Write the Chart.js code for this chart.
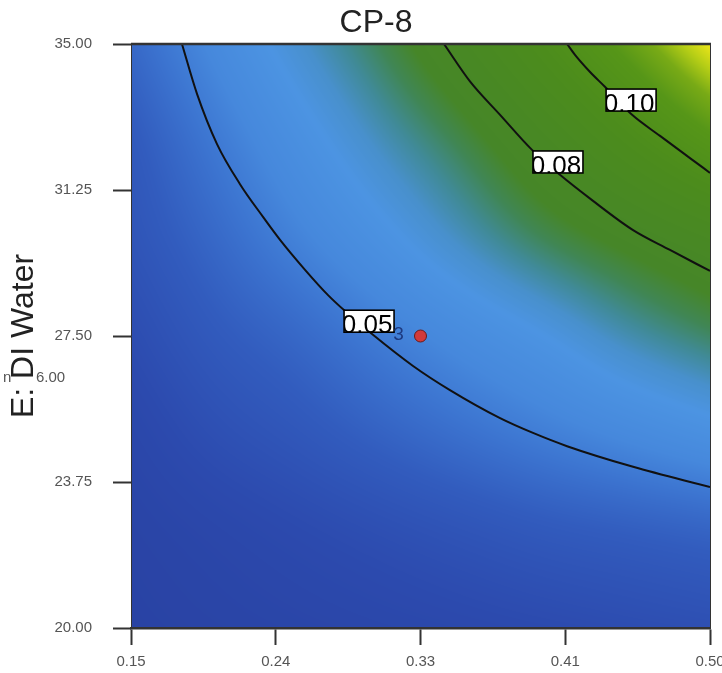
<!DOCTYPE html>
<html><head><meta charset="utf-8">
<script src="https://cdn.jsdelivr.net/npm/chart.js@4/dist/chart.umd.min.js"></script>
<style>html,body{margin:0;padding:0;background:#fff}canvas{display:block}</style>
</head><body>
<canvas id="c" width="722" height="673"></canvas>
<script>
// ---------- data ----------
const chartTitle = 'CP-8';
const yAxisTitle = 'E: DI Water';
const xAxisTicks = [0.15, 0.2375, 0.325, 0.4125, 0.50];
const xTickLabels = ['0.15', '0.24', '0.33', '0.41', '0.50'];
const yAxisTicks = [20, 23.75, 27.5, 31.25, 35];
const yTickLabels = ['20.00', '23.75', '27.50', '31.25', '35.00'];

// response surface estimated on a coarse grid (rows follow gridY)
const gridX = [0.15, 0.20, 0.25, 0.30, 0.35, 0.40, 0.45, 0.50];
const gridY = [20, 22.5, 25, 27.5, 30, 32.5, 35];
const gridZ = [
  [0.030, 0.031, 0.032, 0.033, 0.034, 0.035, 0.036, 0.037],
  [0.031, 0.033, 0.035, 0.037, 0.039, 0.041, 0.0425, 0.044],
  [0.033, 0.037, 0.040, 0.0435, 0.047, 0.0505, 0.054, 0.0575],
  [0.036, 0.041, 0.045, 0.050, 0.055, 0.060, 0.066, 0.071],
  [0.039, 0.045, 0.0515, 0.058, 0.065, 0.072, 0.078, 0.084],
  [0.041, 0.049, 0.057, 0.065, 0.073, 0.083, 0.094, 0.106],
  [0.045, 0.054, 0.063, 0.072, 0.083, 0.096, 0.111, 0.128]
];

// contour lines
const c05X = [0.1808, 0.1899, 0.2020, 0.2159, 0.2298, 0.2401, 0.2552, 0.2691, 0.2794, 0.2957, 0.3205, 0.3428, 0.3731, 0.3930, 0.4136, 0.4535, 0.5000];
const c05Y = [35.00, 33.72, 32.43, 31.40, 30.56, 29.97, 29.20, 28.55, 28.14, 27.55, 26.73, 26.11, 25.39, 25.01, 24.67, 24.14, 23.62];
const c08X = [0.3392, 0.3549, 0.3731, 0.3924, 0.4093, 0.4287, 0.4535, 0.4758, 0.5000];
const c08Y = [35.00, 34.04, 33.18, 32.28, 31.64, 30.99, 30.22, 29.71, 29.17];
const c10X = [0.4136, 0.4184, 0.4275, 0.4365, 0.4529, 0.4698, 0.4879, 0.5000];
const c10Y = [35.00, 34.72, 34.28, 33.90, 33.18, 32.64, 32.07, 31.69];

const contourLabels = ['0.05', '0.08', '0.10'];
const contourLabelX = [0.2939, 0.4081, 0.4523];
const contourLabelY = [27.88, 31.97, 33.56];

// design point
const designX = [0.325];
const designY = [27.5];
const designCount = ['3'];

// stray texts left of the axis
const strayTexts = ['n', '6.00'];

// ---------- styles ----------
const colorStops = [
  [0.028, [40, 64, 160]],
  [0.035, [44, 74, 174]],
  [0.042, [50, 92, 190]],
  [0.048, [60, 116, 208]],
  [0.053, [70, 136, 220]],
  [0.060, [76, 148, 226]],
  [0.064, [72, 144, 204]],
  [0.068, [64, 138, 150]],
  [0.072, [64, 134, 85]],
  [0.076, [70, 134, 40]],
  [0.095, [76, 140, 28]],
  [0.108, [86, 150, 24]],
  [0.116, [120, 170, 22]],
  [0.122, [180, 205, 22]],
  [0.128, [238, 230, 26]]
];
const FONT = '"Liberation Sans", Arial, sans-serif';

function colorFor(v) {
  if (v <= colorStops[0][0]) return colorStops[0][1];
  for (let k = 0; k < colorStops.length - 1; k++) {
    const a = colorStops[k], b = colorStops[k + 1];
    if (v <= b[0]) {
      const t = (v - a[0]) / (b[0] - a[0]);
      return [0, 1, 2].map(c => a[1][c] + (b[1][c] - a[1][c]) * t);
    }
  }
  return colorStops[colorStops.length - 1][1];
}
function cr(p0, p1, p2, p3, t) {
  return 0.5 * ((2 * p1) + (-p0 + p2) * t + (2 * p0 - 5 * p1 + 4 * p2 - p3) * t * t + (-p0 + 3 * p1 - 3 * p2 + p3) * t * t * t);
}
function gz(i, j) {
  const nx = gridX.length, ny = gridY.length;
  if (i < 0) return 2 * gz(0, j) - gz(1, j);
  if (i >= nx) return 2 * gz(nx - 1, j) - gz(nx - 2, j);
  if (j < 0) return 2 * gz(i, 0) - gz(i, 1);
  if (j >= ny) return 2 * gz(i, ny - 1) - gz(i, ny - 2);
  return gridZ[j][i];
}
function locate(arr, v) {
  let i = 0;
  while (i < arr.length - 2 && v > arr[i + 1]) i++;
  const t = (v - arr[i]) / (arr[i + 1] - arr[i]);
  return [i, Math.max(0, Math.min(1, t))];
}
function sample(xv, yv) {
  const [i, tx] = locate(gridX, xv);
  const [j, ty] = locate(gridY, yv);
  const r = [];
  for (let k = -1; k <= 2; k++) r.push(cr(gz(i - 1, j + k), gz(i, j + k), gz(i + 1, j + k), gz(i + 2, j + k), tx));
  return cr(r[0], r[1], r[2], r[3], ty);
}

const heatPlugin = {
  id: 'heat',
  beforeDraw(chart) {
    const { ctx, chartArea: a, scales: { x, y } } = chart;
    ctx.save();
    ctx.fillStyle = '#555';
    ctx.font = '15px ' + FONT;
    ctx.textBaseline = 'middle';
    ctx.textAlign = 'left';
    ctx.fillText(strayTexts[0], 3, 378);
    ctx.fillText(strayTexts[1], 36, 378);
    ctx.restore();

    const L = Math.round(a.left), T = Math.round(a.top);
    const w = Math.round(a.right) - L, h = Math.round(a.bottom) - T;
    const img = ctx.createImageData(w, h);
    const xs = new Array(w);
    for (let i = 0; i < w; i++) xs[i] = x.getValueForPixel(L + i + 0.5);
    for (let j = 0; j < h; j++) {
      const yv = y.getValueForPixel(T + j + 0.5);
      for (let i = 0; i < w; i++) {
        const c = colorFor(sample(xs[i], yv));
        const o = (j * w + i) * 4;
        img.data[o] = c[0]; img.data[o + 1] = c[1]; img.data[o + 2] = c[2]; img.data[o + 3] = 255;
      }
    }
    ctx.putImageData(img, L, T);
  },
  afterDatasetsDraw(chart) {
    const { ctx, scales: { x, y } } = chart;
    ctx.save();
    for (let k = 0; k < contourLabels.length; k++) {
      const cx = x.getPixelForValue(contourLabelX[k]);
      const cy = y.getPixelForValue(contourLabelY[k]);
      const bw = 50, bh = 22;
      ctx.save();
      ctx.beginPath();
      ctx.rect(cx - bw / 2, cy - bh / 2, bw, bh);
      ctx.fillStyle = '#fff';
      ctx.fill();
      ctx.clip();
      ctx.fillStyle = '#000';
      ctx.font = '26px ' + FONT;
      ctx.textAlign = 'center';
      ctx.textBaseline = 'alphabetic';
      ctx.fillText(contourLabels[k], cx - 2, cy + 12);
      ctx.restore();
      ctx.strokeStyle = '#000';
      ctx.lineWidth = 1.6;
      ctx.strokeRect(cx - bw / 2, cy - bh / 2, bw, bh);
    }
    ctx.fillStyle = '#1d3a80';
    ctx.font = '19px ' + FONT;
    ctx.textAlign = 'center';
    ctx.textBaseline = 'middle';
    for (let k = 0; k < designX.length; k++) {
      ctx.fillText(designCount[k], x.getPixelForValue(designX[k]) - 22, y.getPixelForValue(designY[k]) - 1);
    }
    ctx.restore();
  },
  afterDraw(chart) {
    const { ctx, chartArea: a } = chart;
    ctx.save();
    ctx.strokeStyle = '#333';
    ctx.lineWidth = 2.5;
    ctx.beginPath();
    ctx.moveTo(a.left, a.top); ctx.lineTo(a.right + 1, a.top);
    ctx.stroke();
    ctx.lineWidth = 1;
    ctx.beginPath();
    ctx.moveTo(a.right + 0.5, a.top); ctx.lineTo(a.right + 0.5, a.bottom);
    ctx.stroke();
    ctx.fillStyle = '#222';
    ctx.font = '32px ' + FONT;
    ctx.textAlign = 'center';
    ctx.textBaseline = 'middle';
    ctx.fillText(chartTitle, 376, 23);
    ctx.restore();
  }
};

const toPts = (xs, ys) => xs.map((v, i) => ({ x: v, y: ys[i] }));
const lineStyle = { showLine: true, borderColor: '#111', borderWidth: 2, pointRadius: 0, cubicInterpolationMode: 'monotone', fill: false };

new Chart(document.getElementById('c'), {
  type: 'scatter',
  data: {
    datasets: [
      { label: 'design', data: toPts(designX, designY), pointRadius: 6, backgroundColor: '#d23a3a', borderColor: '#6a1a1a', borderWidth: 1 },
      Object.assign({ label: '0.05', data: toPts(c05X, c05Y) }, lineStyle),
      Object.assign({ label: '0.08', data: toPts(c08X, c08Y) }, lineStyle),
      Object.assign({ label: '0.10', data: toPts(c10X, c10Y) }, lineStyle)
    ]
  },
  options: {
    responsive: false,
    animation: false,
    devicePixelRatio: 1,
    layout: { padding: { top: 44, right: 12, bottom: 0, left: 0 } },
    plugins: {
      legend: { display: false },
      tooltip: { enabled: false },
      title: { display: false }
    },
    scales: {
      x: {
        type: 'linear', min: 0.15, max: 0.50,
        afterBuildTicks: s => { s.ticks = xAxisTicks.map(v => ({ value: v })); },
        afterFit: s => { s.height = 45; s.paddingLeft = 0; s.paddingRight = 0; },
        ticks: {
          autoSkip: false, maxRotation: 0, padding: 8, color: '#555',
          font: { family: FONT, size: 15 },
          callback: (v, i) => xTickLabels[i]
        },
        grid: { drawOnChartArea: false, drawTicks: true, tickLength: 17, tickColor: '#333', tickWidth: 2 },
        border: { display: true, color: '#333', width: 2.5 }
      },
      y: {
        type: 'linear', min: 20, max: 35,
        afterBuildTicks: s => { s.ticks = yAxisTicks.map(v => ({ value: v })); },
        afterFit: s => { s.width = 131; s.paddingTop = 0; s.paddingBottom = 0; },
        ticks: {
          autoSkip: false, padding: 21, color: '#555',
          font: { family: FONT, size: 15 },
          callback: (v, i) => yTickLabels[i]
        },
        grid: { drawOnChartArea: false, drawTicks: true, tickLength: 18, tickColor: '#333', tickWidth: 2 },
        border: { display: true, color: '#333', width: 1 },
        title: {
          display: true, text: yAxisTitle, color: '#222',
          font: { family: FONT, size: 32, weight: 'normal' },
          padding: { top: 5, bottom: 0 }
        }
      }
    }
  },
  plugins: [heatPlugin]
});
</script>
</body></html>
